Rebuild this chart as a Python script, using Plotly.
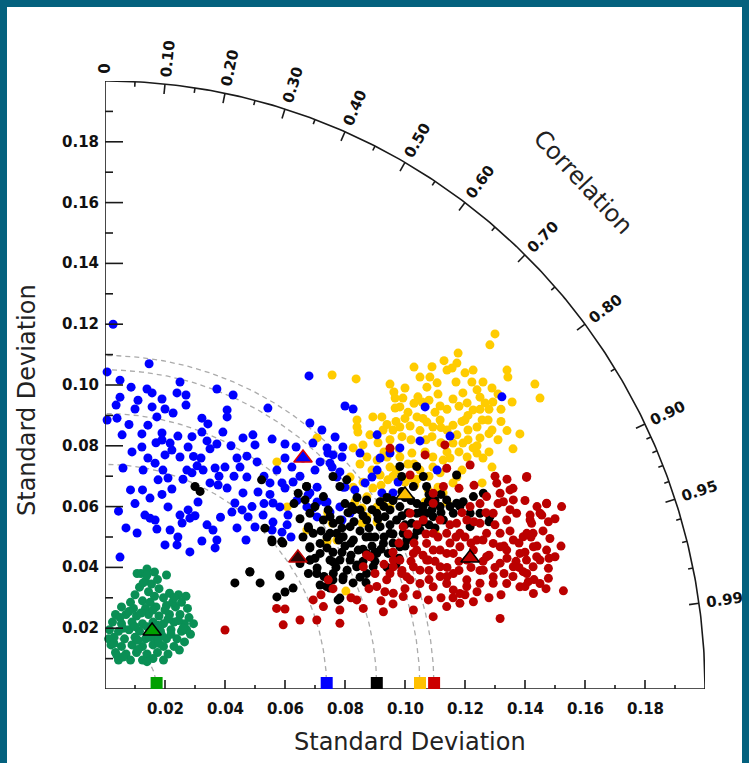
import numpy as np
import plotly.graph_objects as go

# ---------------- data ----------------
std_major = [0.02, 0.04, 0.06, 0.08, 0.10, 0.12, 0.14, 0.16, 0.18]
std_labels = ["0.02", "0.04", "0.06", "0.08", "0.10", "0.12", "0.14", "0.16", "0.18"]
std_minor = [0.01, 0.03, 0.05, 0.07, 0.09, 0.11, 0.13, 0.15, 0.17, 0.19]
corr_major = [0.0, 0.1, 0.2, 0.3, 0.4, 0.5, 0.6, 0.7, 0.8, 0.9, 0.95, 0.99]
corr_labels = ["0", "0.10", "0.20", "0.30", "0.40", "0.50", "0.60", "0.70", "0.80", "0.90", "0.95", "0.99"]
corr_minor = [0.05, 0.15, 0.25, 0.35, 0.45, 0.55, 0.65, 0.75, 0.85, 0.91, 0.92, 0.93, 0.94, 0.96, 0.97, 0.98]
std_max = 0.2

# reference (observed) standard deviations shown as squares on the x axis
ref_std = [0.0172, 0.0739, 0.0906, 0.1050, 0.1097]
ref_colors = ["#00A000", "#0000FF", "#000000", "#FFC000", "#CC0000"]

# mean points (triangles)
tri_x = [0.0157, 0.0660, 0.0643, 0.1000, 0.1217]
tri_y = [0.0191, 0.0760, 0.0431, 0.0638, 0.0431]
tri_fill = ["#00A000", "#0000FF", "#2A0505", "#FFC000", "#C00000"]
tri_edge = ["#000000", "#E00000", "#C00000", "#000000", "#000000"]

green_pts = [
    (0.012, 0.038), (0.014, 0.0395), (0.0165, 0.0385), (0.0135, 0.0355), (0.0155, 0.0345), (0.0115, 0.0335),
    (0.0175, 0.036), (0.0145, 0.032), (0.018, 0.033), (0.0205, 0.0375), (0.0165, 0.0305), (0.0195, 0.030),
    (0.0215, 0.0315), (0.0245, 0.031), (0.027, 0.0305), (0.0255, 0.0285), (0.0125, 0.029), (0.0085, 0.0285),
    (0.0055, 0.027), (0.0095, 0.0265), (0.0135, 0.0265), (0.017, 0.027), (0.0205, 0.0275), (0.0235, 0.027),
    (0.0275, 0.0265), (0.0035, 0.0245), (0.007, 0.0245), (0.0105, 0.024), (0.0145, 0.0245), (0.018, 0.024),
    (0.0215, 0.0245), (0.025, 0.0245), (0.028, 0.0235), (0.0025, 0.022), (0.0055, 0.0215), (0.009, 0.022),
    (0.0125, 0.0215), (0.016, 0.022), (0.0195, 0.0215), (0.023, 0.022), (0.0265, 0.0215), (0.0295, 0.0215),
    (0.0015, 0.0195), (0.0045, 0.019), (0.008, 0.0195), (0.0115, 0.019), (0.015, 0.0195), (0.0185, 0.019),
    (0.022, 0.0195), (0.0255, 0.019), (0.0285, 0.018), (0.003, 0.017), (0.0065, 0.0165), (0.010, 0.017),
    (0.0135, 0.0165), (0.017, 0.017), (0.0205, 0.0165), (0.024, 0.0165), (0.0265, 0.0155), (0.002, 0.0145),
    (0.0055, 0.014), (0.009, 0.0145), (0.0125, 0.014), (0.016, 0.0145), (0.0195, 0.014), (0.023, 0.014),
    (0.0035, 0.012), (0.007, 0.0115), (0.0105, 0.012), (0.014, 0.0115), (0.0175, 0.012), (0.021, 0.0115),
    (0.0045, 0.0095), (0.0085, 0.0095), (0.0125, 0.0095), (0.016, 0.010), (0.0195, 0.0095), (0.0107, 0.038),
    (0.0127, 0.0349), (0.0225, 0.0285), (0.0012, 0.0165), (0.0248, 0.0128), (0.0272, 0.0195),
    (0.004, 0.011), (0.011, 0.016), (0.015, 0.017), (0.019, 0.0175), (0.006, 0.020), (0.010, 0.0205),
    (0.014, 0.0205), (0.0175, 0.021), (0.021, 0.023), (0.0245, 0.0225), (0.016, 0.026), (0.012, 0.025),
    (0.008, 0.0255), (0.005, 0.0235), (0.003, 0.015), (0.011, 0.013), (0.018, 0.015), (0.022, 0.018),
    (0.026, 0.020), (0.020, 0.026), (0.023, 0.030), (0.015, 0.0285), (0.014, 0.0375), (0.010, 0.031),
    (0.006, 0.0105), (0.014, 0.009),
]

blue_pts = [
    (0.0027, 0.120), (0.0007, 0.1043), (0.0147, 0.107), (0.005, 0.1016), (0.0087, 0.0993), (0.014, 0.0987),
    (0.0157, 0.0974), (0.025, 0.101), (0.024, 0.0974), (0.027, 0.0967), (0.027, 0.0934), (0.019, 0.0954),
    (0.0373, 0.0987), (0.0427, 0.0967), (0.0543, 0.0924), (0.068, 0.103), (0.0037, 0.0934), (0.0007, 0.0885),
    (0.010, 0.0921), (0.0157, 0.0928), (0.020, 0.0921), (0.0227, 0.0908), (0.0173, 0.0895), (0.0143, 0.0868),
    (0.004, 0.0891), (0.0057, 0.0836), (0.0123, 0.0839), (0.0123, 0.0796), (0.019, 0.0842), (0.019, 0.0819),
    (0.0217, 0.0809), (0.0243, 0.0832), (0.0223, 0.0786), (0.025, 0.0763), (0.0277, 0.0796), (0.0323, 0.0891),
    (0.0343, 0.0872), (0.0323, 0.0845), (0.034, 0.0816), (0.0373, 0.0806), (0.0393, 0.0845), (0.0407, 0.0918),
    (0.0407, 0.0895), (0.046, 0.0826), (0.0493, 0.0836), (0.050, 0.0803), (0.0557, 0.0822), (0.060, 0.0806),
    (0.0637, 0.0796), (0.044, 0.076), (0.0473, 0.0766), (0.0507, 0.0747), (0.0143, 0.076), (0.0127, 0.072),
    (0.006, 0.0727), (0.0167, 0.0743), (0.0193, 0.072), (0.0177, 0.0688), (0.021, 0.0694), (0.0223, 0.0658),
    (0.0273, 0.072), (0.0307, 0.0734), (0.029, 0.0711), (0.0327, 0.072), (0.0367, 0.0727), (0.040, 0.073),
    (0.035, 0.0678), (0.0377, 0.0671), (0.0407, 0.0661), (0.0433, 0.0612), (0.0457, 0.0589), (0.0423, 0.0582),
    (0.0477, 0.0566), (0.046, 0.0645), (0.0473, 0.0697), (0.051, 0.0648), (0.050, 0.0533), (0.0527, 0.0572),
    (0.056, 0.0612), (0.0583, 0.0599), (0.056, 0.0549), (0.0607, 0.054), (0.059, 0.0516), (0.0557, 0.0523),
    (0.061, 0.0572), (0.059, 0.0678), (0.055, 0.0678), (0.0627, 0.0681), (0.0623, 0.073), (0.0573, 0.072),
    (0.060, 0.0661), (0.0677, 0.0638), (0.0693, 0.0595), (0.0707, 0.0664), (0.0683, 0.0875), (0.0723, 0.0852),
    (0.0693, 0.0809), (0.0717, 0.0747), (0.075, 0.0743), (0.0767, 0.0829), (0.080, 0.0931), (0.0743, 0.0776),
    (0.0773, 0.0697), (0.080, 0.0664), (0.0733, 0.0615), (0.075, 0.0582), (0.015, 0.0628), (0.021, 0.0599),
    (0.0133, 0.0572), (0.015, 0.0562), (0.0167, 0.0556), (0.0107, 0.0513), (0.0173, 0.0526), (0.0217, 0.0523),
    (0.025, 0.0572), (0.0277, 0.0589), (0.0283, 0.0562), (0.0257, 0.0546), (0.0243, 0.050), (0.020, 0.0474),
    (0.024, 0.0474), (0.0283, 0.0451), (0.0323, 0.0487), (0.034, 0.054), (0.036, 0.0523), (0.0373, 0.049),
    (0.0367, 0.0464), (0.005, 0.0434), (0.0827, 0.0921), (0.1067, 0.0928), (0.1323, 0.0961), (0.115, 0.0832),
    (0.105, 0.0816), (0.0907, 0.0836), (0.074, 0.0793), (0.076, 0.077), (0.0793, 0.0796), (0.079, 0.0763),
    (0.085, 0.0776), (0.0917, 0.076), (0.095, 0.0776), (0.0983, 0.0793), (0.0757, 0.073), (0.0783, 0.0714),
    (0.0793, 0.0664), (0.0833, 0.0655), (0.0867, 0.0678), (0.0907, 0.072), (0.089, 0.0697), (0.0923, 0.0645),
    (0.096, 0.0645), (0.0977, 0.0681), (0.1107, 0.072), (0.0683, 0.0645), (0.0673, 0.0599), (0.0707, 0.0615),
    (0.074, 0.0615), (0.0707, 0.0566), (0.0783, 0.0599), (0.079, 0.0556), (0.0817, 0.0579), (0.0085, 0.0655),
    (0.0045, 0.0585), (0.031, 0.0615), (0.0385, 0.0565), (0.0295, 0.0765), (0.0125, 0.0655),
    (0.005, 0.096), (0.008, 0.087), (0.011, 0.095), (0.017, 0.081), (0.009, 0.078), (0.020, 0.077),
    (0.026, 0.069), (0.032, 0.076), (0.035, 0.079), (0.029, 0.083), (0.038, 0.070), (0.043, 0.070),
    (0.045, 0.073), (0.053, 0.070), (0.055, 0.064), (0.053, 0.061), (0.049, 0.060), (0.064, 0.062),
    (0.065, 0.070), (0.066, 0.076), (0.070, 0.072), (0.060, 0.076), (0.042, 0.080), (0.030, 0.057),
    (0.019, 0.064), (0.010, 0.061), (0.007, 0.053), (0.044, 0.053), (0.047, 0.049), (0.062, 0.050),
]

yellow_pts = [
    (0.130, 0.1168), (0.1283, 0.1132), (0.1177, 0.1105), (0.1173, 0.1072), (0.114, 0.1049), (0.1157, 0.1056),
    (0.1227, 0.1049), (0.134, 0.1049), (0.1343, 0.1026), (0.103, 0.1059), (0.105, 0.1026), (0.1083, 0.1026),
    (0.1107, 0.1007), (0.1073, 0.0993), (0.095, 0.1003), (0.0963, 0.0977), (0.0967, 0.0957), (0.0993, 0.0957),
    (0.0983, 0.0928), (0.0967, 0.0924), (0.1043, 0.0961), (0.1057, 0.0944), (0.1117, 0.0931), (0.116, 0.0954),
    (0.1193, 0.0974), (0.1223, 0.101), (0.124, 0.0984), (0.1207, 0.0941), (0.1227, 0.0918), (0.1267, 0.0941),
    (0.1293, 0.0944), (0.1433, 0.1003), (0.145, 0.0957), (0.1357, 0.0944), (0.1383, 0.0839), (0.0757, 0.1033),
    (0.0837, 0.102), (0.0893, 0.0895), (0.0923, 0.0895), (0.084, 0.0862), (0.0843, 0.0845), (0.0883, 0.0836),
    (0.0927, 0.0852), (0.096, 0.0852), (0.0983, 0.0862), (0.1017, 0.0865), (0.104, 0.0895), (0.1073, 0.0878),
    (0.1093, 0.0862), (0.1117, 0.0885), (0.114, 0.0852), (0.116, 0.0868), (0.1173, 0.0836), (0.120, 0.0885),
    (0.121, 0.0852), (0.124, 0.0862), (0.1257, 0.0885), (0.1277, 0.0885), (0.129, 0.0852), (0.125, 0.0826),
    (0.1227, 0.0793), (0.1193, 0.0809), (0.116, 0.0809), (0.0827, 0.0793), (0.086, 0.0803), (0.0873, 0.0763),
    (0.0907, 0.0753), (0.094, 0.0763), (0.095, 0.073), (0.0983, 0.0763), (0.1023, 0.0776), (0.1067, 0.078),
    (0.1093, 0.0763), (0.1127, 0.0753), (0.1207, 0.0763), (0.124, 0.0776), (0.126, 0.076), (0.129, 0.073),
    (0.0917, 0.0704), (0.0943, 0.0688), (0.0893, 0.0661), (0.0927, 0.0622), (0.095, 0.0599), (0.0907, 0.0599),
    (0.1017, 0.0694), (0.1033, 0.0671), (0.1093, 0.073), (0.1117, 0.0711), (0.1067, 0.0615), (0.1077, 0.0655),
    (0.111, 0.0664), (0.1127, 0.0645), (0.114, 0.0615), (0.116, 0.0678), (0.1173, 0.0697), (0.1257, 0.0678),
    (0.0873, 0.0632), (0.0833, 0.0615), (0.0857, 0.0595), (0.0873, 0.0566), (0.0907, 0.0549), (0.0857, 0.0546),
    (0.084, 0.0885), (0.0817, 0.0697), (0.0827, 0.0664), (0.074, 0.049), (0.0773, 0.049), (0.0743, 0.0579),
    (0.0757, 0.0546), (0.0803, 0.0322), (0.110, 0.0516), (0.0573, 0.0747), (0.0707, 0.0826), (0.0743, 0.0582),
    (0.074, 0.0484), (0.0673, 0.0523), (0.0607, 0.0599), (0.132, 0.088), (0.136, 0.079), (0.128, 0.078),
    (0.119, 0.088), (0.125, 0.092), (0.131, 0.097), (0.111, 0.097), (0.106, 0.089), (0.101, 0.091),
    (0.099, 0.083), (0.094, 0.087), (0.091, 0.081), (0.117, 0.101), (0.112, 0.086), (0.107, 0.082),
    (0.103, 0.074), (0.097, 0.072), (0.114, 0.078), (0.119, 0.072), (0.108, 0.070),
    (0.100, 0.099), (0.103, 0.094), (0.108, 0.095), (0.110, 0.091), (0.114, 0.092), (0.118, 0.093),
    (0.121, 0.090), (0.125, 0.096), (0.128, 0.092), (0.132, 0.092), (0.129, 0.099), (0.126, 0.101),
    (0.120, 0.104), (0.113, 0.108), (0.109, 0.106), (0.100, 0.089), (0.097, 0.088), (0.095, 0.082),
    (0.098, 0.079), (0.102, 0.082), (0.105, 0.085), (0.109, 0.083), (0.112, 0.081), (0.115, 0.076),
    (0.118, 0.078), (0.121, 0.082), (0.124, 0.080), (0.131, 0.082), (0.134, 0.085), (0.128, 0.084),
    (0.105, 0.072), (0.101, 0.074), (0.093, 0.078), (0.089, 0.072), (0.092, 0.067), (0.096, 0.070),
    (0.100, 0.068), (0.104, 0.069), (0.086, 0.068), (0.085, 0.074),
]

black_pts = [
    (0.0557, 0.0484), (0.0593, 0.048), (0.0483, 0.0385), (0.0433, 0.0349), (0.0517, 0.0349), (0.0583, 0.0372),
    (0.0627, 0.0332), (0.060, 0.0319), (0.0573, 0.0303), (0.0683, 0.0464), (0.0683, 0.0424), (0.0707, 0.0398),
    (0.0717, 0.0342), (0.075, 0.0332), (0.076, 0.0359), (0.0783, 0.0299), (0.0793, 0.0359), (0.0827, 0.0349),
    (0.085, 0.0368), (0.084, 0.0408), (0.0807, 0.0391), (0.076, 0.0418), (0.074, 0.0464), (0.0777, 0.0293),
    (0.0672, 0.0666), (0.0667, 0.0622), (0.0683, 0.0578), (0.0678, 0.0534), (0.0694, 0.0512), (0.0717, 0.0479),
    (0.075, 0.0512), (0.0761, 0.0545), (0.0728, 0.0556), (0.0744, 0.0589), (0.0783, 0.0556), (0.0817, 0.0534),
    (0.0794, 0.0501), (0.0828, 0.049), (0.0844, 0.0457), (0.0872, 0.0446), (0.0883, 0.0501), (0.0917, 0.0534),
    (0.0933, 0.0567), (0.0906, 0.0578), (0.0872, 0.0556), (0.085, 0.0589), (0.0822, 0.060), (0.0872, 0.0622),
    (0.0917, 0.0616), (0.095, 0.0589), (0.0983, 0.060), (0.0972, 0.0556), (0.095, 0.0512), (0.0928, 0.0479),
    (0.0906, 0.0446), (0.0944, 0.0446), (0.0983, 0.0468), (0.0994, 0.0512), (0.1022, 0.0545), (0.1039, 0.0578),
    (0.1072, 0.0578), (0.105, 0.0523), (0.1006, 0.049), (0.1094, 0.0567), (0.1128, 0.0556), (0.1161, 0.0578),
    (0.1183, 0.060), (0.1217, 0.0578), (0.125, 0.0578), (0.1283, 0.0567), (0.1217, 0.0534), (0.1172, 0.0611),
    (0.1117, 0.060), (0.1078, 0.0616), (0.1039, 0.0732), (0.1061, 0.0699), (0.1072, 0.0666), (0.1028, 0.0666),
    (0.0983, 0.0732), (0.0989, 0.0699), (0.1172, 0.0704), (0.1194, 0.0616), (0.1228, 0.0633), (0.1261, 0.0644),
    (0.1139, 0.0622), (0.0761, 0.038), (0.0794, 0.0369), (0.0739, 0.0337), (0.0717, 0.0446), (0.0683, 0.0424),
    (0.0706, 0.038), (0.0678, 0.038), (0.075, 0.0424), (0.0783, 0.0424), (0.0817, 0.0424), (0.0839, 0.0402),
    (0.0872, 0.038), (0.0894, 0.0402), (0.030, 0.0666), (0.0317, 0.065), (0.0522, 0.0688), (0.0533, 0.0529),
    (0.0556, 0.049), (0.0589, 0.0485), (0.0644, 0.0644), (0.0672, 0.0666), (0.0678, 0.0529), (0.0683, 0.0468),
    (0.065, 0.0413), (0.0483, 0.0386), (0.0583, 0.0375), (0.076, 0.0699), (0.0783, 0.0666), (0.075, 0.0567),
    (0.0772, 0.0512), (0.0728, 0.0633), (0.0806, 0.0688), (0.085, 0.052), (0.089, 0.047), (0.093, 0.050),
    (0.096, 0.048), (0.100, 0.054), (0.103, 0.050), (0.091, 0.056), (0.087, 0.050), (0.080, 0.047),
    (0.083, 0.055), (0.095, 0.054), (0.098, 0.043), (0.101, 0.058), (0.106, 0.055), (0.110, 0.053),
    (0.078, 0.049), (0.076, 0.045), (0.086, 0.042), (0.090, 0.042), (0.082, 0.044), (0.104, 0.061),
    (0.100, 0.063), (0.094, 0.063), (0.089, 0.059), (0.112, 0.064), (0.108, 0.064), (0.128, 0.055),
    (0.070, 0.060), (0.072, 0.052), (0.074, 0.050), (0.079, 0.053), (0.081, 0.058), (0.084, 0.063),
    (0.086, 0.057), (0.088, 0.053), (0.090, 0.050), (0.092, 0.046), (0.096, 0.051), (0.099, 0.057),
    (0.102, 0.062), (0.106, 0.060), (0.109, 0.059), (0.112, 0.058), (0.115, 0.060), (0.108, 0.054),
    (0.104, 0.052), (0.100, 0.047), (0.097, 0.041), (0.094, 0.040), (0.090, 0.045), (0.086, 0.046),
    (0.082, 0.048), (0.079, 0.045), (0.077, 0.040), (0.073, 0.037), (0.070, 0.043), (0.066, 0.050),
    (0.065, 0.056), (0.063, 0.061), (0.080, 0.061), (0.083, 0.059), (0.093, 0.060), (0.096, 0.062),
    (0.099, 0.065), (0.105, 0.058), (0.110, 0.062), (0.087, 0.035),
]

red_pts = [
    (0.1405, 0.0696), (0.1472, 0.0609), (0.1522, 0.060), (0.1417, 0.0572), (0.1456, 0.0572), (0.1422, 0.0545),
    (0.1478, 0.055), (0.1427, 0.0512), (0.1483, 0.0495), (0.1394, 0.0501), (0.1472, 0.0457), (0.1439, 0.0435),
    (0.150, 0.0435), (0.1405, 0.0424), (0.1427, 0.0402), (0.1478, 0.0397), (0.1394, 0.0386), (0.1478, 0.0364),
    (0.1411, 0.0353), (0.140, 0.0337), (0.1528, 0.0323), (0.1406, 0.0699), (0.1306, 0.0677), (0.1317, 0.0644),
    (0.135, 0.0655), (0.1361, 0.0622), (0.1328, 0.0616), (0.1472, 0.0611), (0.145, 0.0578), (0.1417, 0.0556),
    (0.1372, 0.0578), (0.1339, 0.0556), (0.1294, 0.0578), (0.125, 0.0545), (0.1317, 0.0512), (0.1361, 0.049),
    (0.1406, 0.0512), (0.1428, 0.0468), (0.1383, 0.0446), (0.1339, 0.0457), (0.1294, 0.0479), (0.1272, 0.0435),
    (0.1317, 0.0414), (0.1361, 0.0402), (0.1406, 0.038), (0.145, 0.0424), (0.1239, 0.049), (0.1183, 0.0512),
    (0.1206, 0.0556), (0.1172, 0.0545), (0.1139, 0.0512), (0.1117, 0.0556), (0.1094, 0.0512), (0.1072, 0.0479),
    (0.1117, 0.0457), (0.1161, 0.0446), (0.1206, 0.0424), (0.125, 0.039), (0.1294, 0.0369), (0.1339, 0.0347),
    (0.1383, 0.0336), (0.1428, 0.0314), (0.145, 0.0347), (0.1206, 0.0359), (0.1161, 0.038), (0.1117, 0.0402),
    (0.1072, 0.0424), (0.1028, 0.0446), (0.1028, 0.0402), (0.0983, 0.0424), (0.0961, 0.0402), (0.1006, 0.0369),
    (0.105, 0.0347), (0.1094, 0.0336), (0.1139, 0.0347), (0.1183, 0.0314), (0.0939, 0.0359), (0.0906, 0.0337),
    (0.0994, 0.0534), (0.1017, 0.0578), (0.1061, 0.0556), (0.1094, 0.0611), (0.1128, 0.0666), (0.1217, 0.060),
    (0.1272, 0.0633), (0.1139, 0.0726), (0.1133, 0.0803), (0.1217, 0.0737), (0.095, 0.0792), (0.1067, 0.077),
    (0.1017, 0.0704), (0.1094, 0.0644), (0.0883, 0.0435), (0.0861, 0.0402), (0.0744, 0.0359), (0.0872, 0.0441),
    (0.0694, 0.0293), (0.0728, 0.0271), (0.0783, 0.026), (0.0706, 0.0227), (0.0783, 0.0216), (0.0839, 0.0293),
    (0.0861, 0.0265), (0.0928, 0.0254), (0.0933, 0.032), (0.0961, 0.0315), (0.0994, 0.0304), (0.1028, 0.026),
    (0.1078, 0.0293), (0.1094, 0.0238), (0.1139, 0.0271), (0.1183, 0.0282), (0.1228, 0.0287), (0.1161, 0.0326),
    (0.1206, 0.0337), (0.125, 0.0348), (0.1294, 0.0348), (0.1261, 0.0391), (0.1317, 0.0232), (0.0572, 0.0265),
    (0.0594, 0.0211), (0.065, 0.0227), (0.040, 0.0194), (0.060, 0.0263), (0.0989, 0.038), (0.1017, 0.0359),
    (0.105, 0.0391), (0.1078, 0.0424), (0.1117, 0.037), (0.1094, 0.0457), (0.1039, 0.0457), (0.0961, 0.0424),
    (0.095, 0.038), (0.1139, 0.0446), (0.1183, 0.0468), (0.1228, 0.0457), (0.1272, 0.0512), (0.1317, 0.0468),
    (0.125, 0.061), (0.135, 0.059), (0.115, 0.048), (0.120, 0.050), (0.133, 0.038), (0.137, 0.042),
    (0.103, 0.048), (0.106, 0.044), (0.110, 0.042), (0.114, 0.040), (0.118, 0.042), (0.122, 0.040),
    (0.126, 0.042), (0.130, 0.040), (0.134, 0.043), (0.138, 0.048), (0.142, 0.050), (0.146, 0.052),
    (0.150, 0.056), (0.144, 0.060), (0.140, 0.062), (0.136, 0.066), (0.131, 0.061), (0.127, 0.058),
    (0.123, 0.055), (0.119, 0.058), (0.115, 0.054), (0.111, 0.050), (0.107, 0.051), (0.104, 0.054),
    (0.101, 0.051), (0.098, 0.048), (0.096, 0.045), (0.093, 0.041), (0.090, 0.038), (0.088, 0.033),
    (0.092, 0.029), (0.096, 0.028), (0.100, 0.033), (0.104, 0.031), (0.108, 0.036), (0.112, 0.030),
    (0.116, 0.030), (0.120, 0.031), (0.124, 0.032), (0.128, 0.030), (0.132, 0.031), (0.136, 0.037),
    (0.140, 0.045), (0.144, 0.047), (0.148, 0.043), (0.152, 0.047), (0.135, 0.052), (0.130, 0.054),
    (0.126, 0.049), (0.122, 0.048), (0.118, 0.039), (0.114, 0.037), (0.128, 0.044), (0.133, 0.047),
    (0.117, 0.050), (0.108, 0.039), (0.102, 0.042), (0.099, 0.039), (0.147, 0.033), (0.143, 0.036),
    (0.138, 0.040), (0.118, 0.066), (0.123, 0.067), (0.130, 0.070), (0.134, 0.069), (0.082, 0.030),
    (0.076, 0.033), (0.072, 0.031),
]

# ---------------- geometry ----------------
W, H = 749, 763
ML, MR, MT, MB = 105, 44, 81, 74
PW, PH = W - ML - MR, H - MT - MB
XPX = PW / std_max   # pixels per unit
YPX = PH / std_max

fig = go.Figure()

# dashed arcs of constant standard deviation
th = np.linspace(0, np.pi / 2, 240)
for s in ref_std:
    fig.add_trace(go.Scatter(x=s * np.cos(th), y=s * np.sin(th), mode="lines",
                             line=dict(color="#ababab", width=1.3, dash="5px,4px"),
                             hoverinfo="skip", showlegend=False, cliponaxis=False))

def pts_trace(pts, color):
    xs, ys = zip(*pts)
    return go.Scatter(x=list(xs), y=list(ys), mode="markers",
                      marker=dict(size=9, color=color, line=dict(width=0)),
                      hoverinfo="skip", showlegend=False, cliponaxis=False)

fig.add_trace(pts_trace(green_pts, "#0A8F55"))
fig.add_trace(pts_trace(yellow_pts, "#FFCC00"))
fig.add_trace(pts_trace(blue_pts, "#0000FF"))
fig.add_trace(pts_trace(black_pts, "#000000"))
fig.add_trace(pts_trace(red_pts, "#BB0000"))

# axes: lines + ticks
ax_x, ax_y = [0, 0, None, 0, std_max], [std_max, 0, None, 0, 0]
ax_x += list(std_max * np.cos(th)) + [None]
ax_y += list(std_max * np.sin(th)) + [None]
for v in std_major:
    ax_x += [0, 18 / XPX, None]; ax_y += [v, v, None]
    ax_x += [v, v, None]; ax_y += [0, 9 / YPX, None]
for v in std_minor:
    ax_x += [0, 8 / XPX, None]; ax_y += [v, v, None]
    ax_x += [v, v, None]; ax_y += [0, 4 / YPX, None]
for c, L in [(c, 10) for c in corr_major[1:]] + [(c, 5) for c in corr_minor]:
    t = np.arccos(c)
    x0, y0 = std_max * np.cos(t), std_max * np.sin(t)
    ax_x += [x0, x0 - L * np.cos(t) / XPX, None]
    ax_y += [y0, y0 - L * np.sin(t) / YPX, None]
fig.add_trace(go.Scatter(x=ax_x, y=ax_y, mode="lines", line=dict(color="#1a1a1a", width=1.6),
                         hoverinfo="skip", showlegend=False, cliponaxis=False))

# reference squares on the x axis (sitting on the axis)
sq_size = 12
fig.add_trace(go.Scatter(x=ref_std, y=[sq_size / 2 / YPX] * len(ref_std), mode="markers",
                         marker=dict(symbol="square", size=sq_size, color=ref_colors, line=dict(width=0)),
                         hoverinfo="skip", showlegend=False, cliponaxis=False))

# mean triangles
for x, y, f, e in zip(tri_x, tri_y, tri_fill, tri_edge):
    fig.add_trace(go.Scatter(x=[x], y=[y], mode="markers",
                             marker=dict(symbol="triangle-up", size=16, color=f, line=dict(color=e, width=1.5)),
                             hoverinfo="skip", showlegend=False, cliponaxis=False))

tick_font = dict(family="DejaVu Sans", size=15, color="#111111", weight="bold")
ann = []
for v, lab in zip(std_major, std_labels):
    ann.append(dict(x=0, y=v, xref="x", yref="y", text=lab, showarrow=False, xanchor="right",
                    yanchor="middle", xshift=-4, font=tick_font))
    ann.append(dict(x=v, y=0, xref="x", yref="y", text=lab, showarrow=False, xanchor="center",
                    yanchor="top", yshift=-9, font=tick_font))
for c, lab in zip(corr_major, corr_labels):
    t = np.arccos(c)
    w = 15 * (0.696 * sum(ch.isdigit() for ch in lab) + 0.38 * lab.count("."))
    d = 7 + w / 2
    ann.append(dict(x=std_max * np.cos(t), y=std_max * np.sin(t), xref="x", yref="y", text=lab,
                    showarrow=False, xanchor="center", yanchor="middle",
                    xshift=d * np.cos(t), yshift=d * np.sin(t), textangle=-np.degrees(t), font=tick_font))

title_font = dict(family="DejaVu Sans", size=24, color="#222222")
ann.append(dict(x=(410 - ML) / PW, y=(H - MB - 742) / PH, xref="paper", yref="paper",
                text="Standard Deviation", showarrow=False, xanchor="center", yanchor="middle", font=title_font))
ann.append(dict(x=(27 - ML) / PW, y=(H - MB - 400) / PH, xref="paper", yref="paper",
                text="Standard Deviation", showarrow=False, xanchor="center", yanchor="middle",
                textangle=-90, font=title_font))
ann.append(dict(x=(583 - ML) / PW, y=(H - MB - 182) / PH, xref="paper", yref="paper",
                text="Correlation", showarrow=False, xanchor="center", yanchor="middle",
                textangle=47, font=title_font))

# white panel inside the teal frame
frame = [dict(type="rect", xref="paper", yref="paper", layer="below",
              x0=(7 - ML) / PW, x1=(742 - ML) / PW, y0=(H - MB - H) / PH - 0.01, y1=(H - MB - 7) / PH,
              fillcolor="white", line=dict(width=0))]

fig.update_layout(
    width=W, height=H, margin=dict(l=ML, r=MR, t=MT, b=MB),
    paper_bgcolor="#04617E", plot_bgcolor="rgba(0,0,0,0)",
    xaxis=dict(range=[0, std_max], visible=False, fixedrange=True),
    yaxis=dict(range=[0, std_max], visible=False, fixedrange=True),
    annotations=ann, shapes=frame, showlegend=False,
)

fig.write_html("out.html")
